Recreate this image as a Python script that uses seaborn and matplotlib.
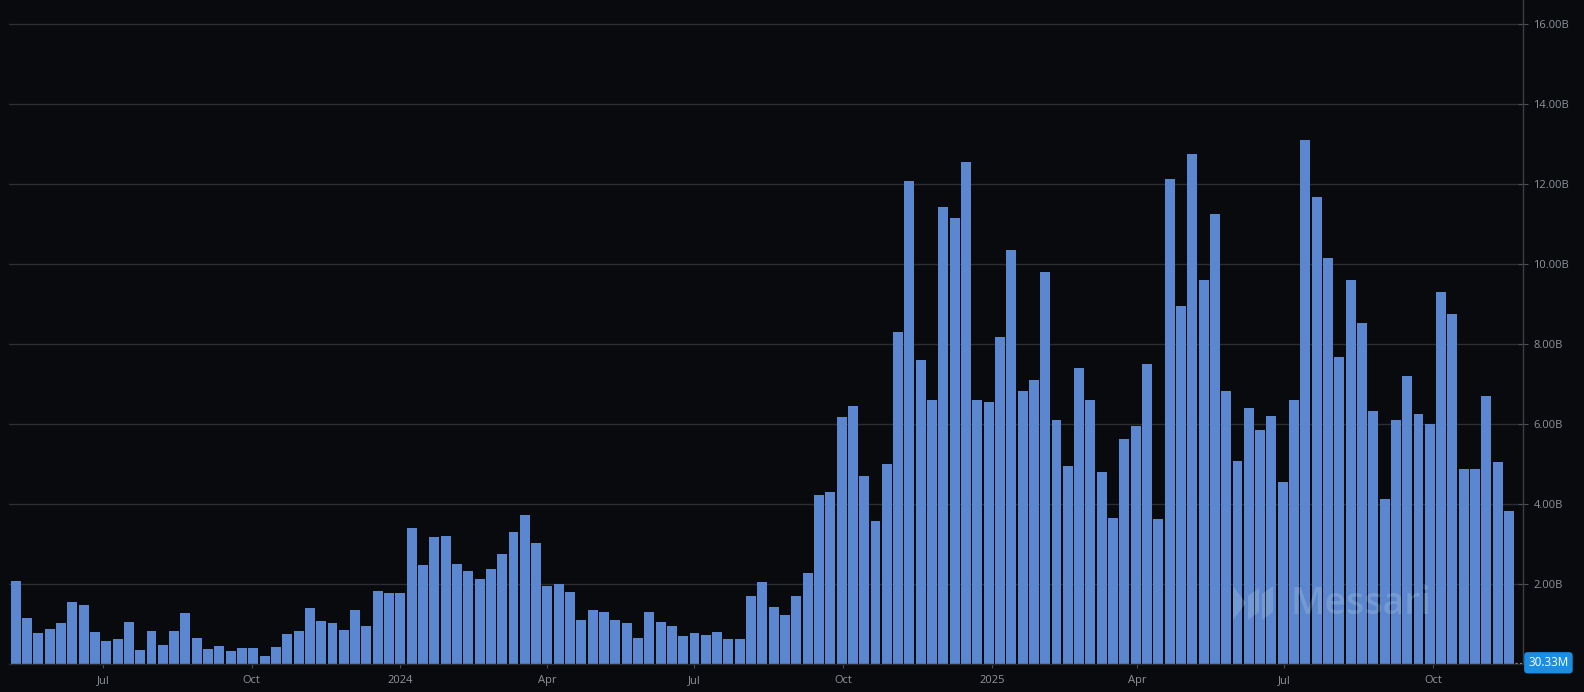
import pandas as pd
import numpy as np
import matplotlib
matplotlib.use('Agg')
import matplotlib.pyplot as plt
import matplotlib.dates as mdates
import matplotlib.transforms as mtransforms
from matplotlib.patches import Polygon
import seaborn as sns

# weekly volume, in billions
volume_2023 = [2.08, 1.16, 0.78, 0.88, 1.03, 1.56, 1.48, 0.81, 0.58, 0.63, 1.06, 0.36,
               0.83, 0.48, 0.83, 1.28, 0.66, 0.38, 0.46, 0.33, 0.41, 0.41, 0.21, 0.43,
               0.76, 0.83, 1.41, 1.08, 1.03, 0.86, 1.36, 0.96, 1.83, 1.78, 1.78, 3.41]
volume_2024a = [2.48, 3.18, 3.21, 2.51, 2.33, 2.13, 2.38, 2.76, 3.31, 3.73, 3.03, 1.96,
                2.01, 1.81, 1.11, 1.36, 1.31, 1.11, 1.03, 0.66, 1.31, 1.06, 0.96, 0.71,
                0.78, 0.73, 0.81, 0.63, 0.63, 1.71, 2.06, 1.43, 1.23, 1.71, 2.28, 4.23]
volume_2024b = [4.31, 6.18, 6.46, 4.70, 3.58, 5.01, 8.29, 12.08, 7.61, 6.61, 11.42, 11.15,
                12.55, 6.59, 6.56, 8.17, 10.35, 6.83, 7.09, 9.80, 6.09, 4.96, 7.41, 6.59,
                4.81, 3.65, 5.63, 5.96, 7.49]
volume_2025 = [3.63, 12.12, 8.96, 12.75, 9.59, 11.24, 6.83, 5.08, 6.39, 5.86, 6.21, 4.55,
               6.59, 13.10, 11.67, 10.15, 7.67, 9.59, 8.52, 6.33, 4.12, 6.09, 7.21, 6.26,
               6.01, 9.31, 8.75, 4.88, 4.88, 6.71, 5.04, 3.82]
volume = volume_2023 + volume_2024a + volume_2024b + volume_2025
weeks = pd.date_range('2023-05-08', periods=len(volume), freq='7D')

tick_dates = ['2023-07-01', '2023-10-01', '2024-01-01', '2024-04-01', '2024-07-01',
              '2024-10-01', '2025-01-01', '2025-04-01', '2025-07-01', '2025-10-01']
tick_labels = ['Jul', 'Oct', '2024', 'Apr', 'Jul', 'Oct', '2025', 'Apr', 'Jul', 'Oct']
y_ticks = [2, 4, 6, 8, 10, 12, 14, 16]
last_value_label = '30.33M'

bg = '#090a0d'
bar_color = '#5a87cf'
grid_color = '#2b2e33'
text_color = '#8e939b'

sns.set_theme(style='dark')
plt.rcParams['font.family'] = ['Open Sans', 'DejaVu Sans']

W, H = 1584, 692
fig = plt.figure(figsize=(W / 100, H / 100), dpi=100, facecolor=bg)
ax = fig.add_axes([9 / W, 28 / H, (1523 - 9) / W, 664 / H])
ax.set_facecolor(bg)

df = pd.DataFrame({'x': mdates.date2num(weeks), 'volume': volume})
sns.barplot(data=df, x='x', y='volume', native_scale=True, color=bar_color,
            saturation=1, width=0.88, linewidth=0, errorbar=None, ax=ax)

ax.set_xlim(mdates.date2num(pd.Timestamp('2023-05-03 20:00')),
            mdates.date2num(pd.Timestamp('2025-11-25 16:00')))
ax.set_ylim(0, 16.6)

ax.set_xticks(mdates.date2num(pd.to_datetime(tick_dates)))
ax.set_xticklabels(tick_labels)
ax.set_yticks(y_ticks)
ax.set_yticklabels([f'{v:.2f}B' for v in y_ticks])
ax.yaxis.tick_right()
ax.set_xlabel('')
ax.set_ylabel('')

ax.grid(axis='y', color=grid_color, linewidth=1)
ax.grid(axis='x', visible=False)
ax.set_axisbelow(True)
for s in ['top', 'left']:
    ax.spines[s].set_visible(False)
ax.spines['right'].set_color('#3a3e44')
ax.spines['right'].set_linewidth(1)
ax.spines['bottom'].set_color('#25282d')
ax.spines['bottom'].set_linewidth(1)

ax.tick_params(axis='y', colors=text_color, labelsize=8, direction='inout',
               length=7, width=0.8, pad=4, right=True, left=False)
ax.tick_params(axis='x', colors=text_color, labelsize=8, direction='out',
               length=3, width=0.8, pad=5, bottom=True)
ax.tick_params(axis='y', color='#4a4e55')
ax.tick_params(axis='x', color='#4a4e55')

# last value marker on the right axis
last_y = 0.03033
ax.plot([df['x'].iloc[-1] + 3.5, ax.get_xlim()[1]], [last_y, last_y],
        color='#9aa0a8', linestyle=(0, (2, 2)), linewidth=0.8, clip_on=False)
trans = mtransforms.blended_transform_factory(ax.transAxes, ax.transData)
ax.text(1.0035, last_y, last_value_label, transform=trans, ha='left', va='center',
        fontsize=8.5, color='white', clip_on=False,
        bbox=dict(boxstyle='round,pad=0.35,rounding_size=0.3', facecolor='#1b8ee3',
                  edgecolor='none'))

# watermark
fig.text(1290 / W, (692 - 604) / H, 'Messari', color='white', alpha=0.16,
         fontsize=27, fontweight='semibold', ha='left', va='center')
logo = [
    [(1233, 586), (1246, 603), (1233, 620)],
    [(1248, 596), (1259, 588), (1259, 612), (1248, 620)],
    [(1262, 594), (1273, 586), (1273, 612), (1262, 620)],
]
for pts in logo:
    fig.patches.append(Polygon([(x / W, (H - y) / H) for x, y in pts], closed=True,
                               transform=fig.transFigure, facecolor='white',
                               alpha=0.16, edgecolor='none'))

fig.savefig('out.png', dpi=100, facecolor=bg)
